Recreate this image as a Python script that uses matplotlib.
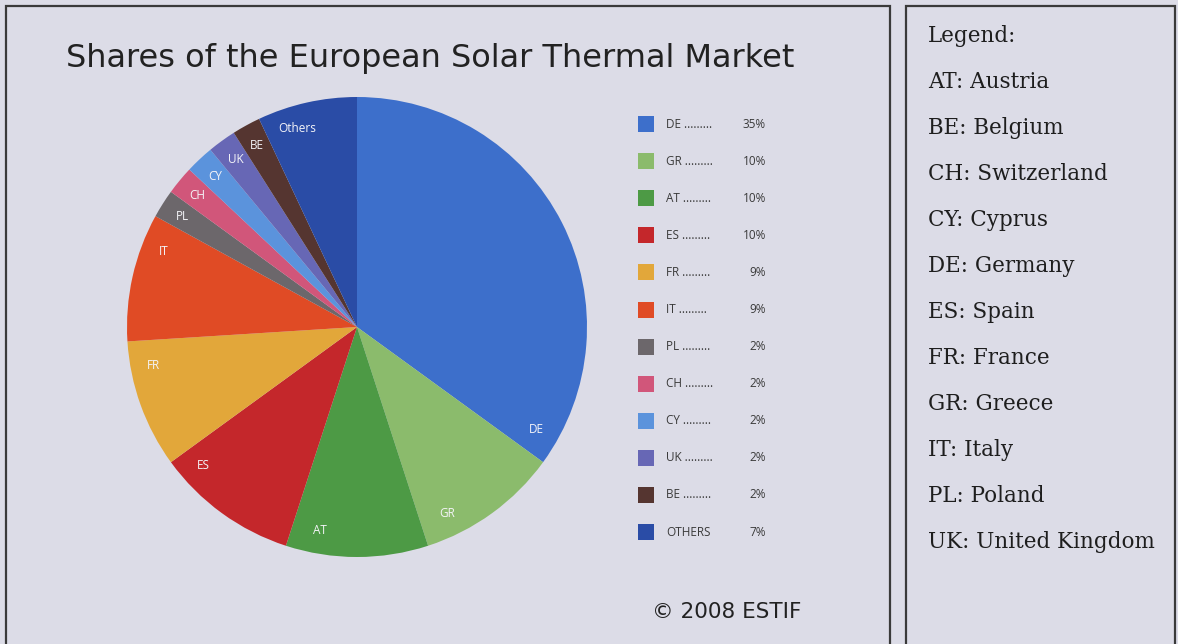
import numpy as np
import matplotlib
matplotlib.use('Agg')
import matplotlib.pyplot as plt
from matplotlib.patches import Rectangle

# market shares, clockwise from 12 o'clock
codes = ['DE', 'GR', 'AT', 'ES', 'FR', 'IT', 'PL', 'CH', 'CY', 'UK', 'BE', 'Others']
legend_codes = ['DE', 'GR', 'AT', 'ES', 'FR', 'IT', 'PL', 'CH', 'CY', 'UK', 'BE', 'OTHERS']
shares = [35, 10, 10, 10, 9, 9, 2, 2, 2, 2, 2, 7]
colors = ['#3d6fcb', '#8bbb6c', '#4d9a45', '#c4272b', '#e2a73a', '#e04b25',
          '#6c676b', '#d1567a', '#5b93dc', '#6767b5', '#553530', '#2a4ca6']
# where each label sits along its wedge (0 = start, 1 = end)
label_frac = [0.95, 0.78, 0.79, 0.83, 0.78, 0.77, 0.5, 0.5, 0.5, 0.5, 0.5, 0.33]

country_names = ['AT: Austria', 'BE: Belgium', 'CH: Switzerland', 'CY: Cyprus',
                 'DE: Germany', 'ES: Spain', 'FR: France', 'GR: Greece',
                 'IT: Italy', 'PL: Poland', 'UK: United Kingdom']

W, H = 1178, 644
BG = '#dcdce7'


def px(x, y):
    # pixel position (from top-left) to figure fraction
    return x / W, 1 - y / H


fig = plt.figure(figsize=(W / 100, H / 100), dpi=100, facecolor=BG)

# frames
for x0, x1 in [(6, 890), (906, 1175)]:
    fig.patches.append(Rectangle(px(x0, 660), (x1 - x0) / W, 654 / H,
                                 transform=fig.transFigure, fill=False,
                                 edgecolor='#3a3a3a', linewidth=1.6))

# pie
ax = fig.add_axes([127 / W, 1 - 557 / H, 460 / W, 460 / H])
ax.set_facecolor(BG)
wedges, _ = ax.pie(shares, colors=colors, startangle=90, counterclock=False,
                   radius=1.0, wedgeprops=dict(linewidth=0))
ax.set_xlim(-1, 1)
ax.set_ylim(-1, 1)
ax.set_aspect('equal')
ax.axis('off')

for w, code, f in zip(wedges, codes, label_frac):
    # wedges run theta1 -> theta2 anticlockwise; clockwise start is theta2
    ang = np.deg2rad(w.theta2 - f * (w.theta2 - w.theta1))
    ax.text(0.9 * np.cos(ang), 0.9 * np.sin(ang), code, color='#f4f4f8',
            fontsize=8.5, ha='center', va='center', family='Open Sans')

fig.text(*px(66, 58), 'Shares of the European Solar Thermal Market',
         fontsize=23, color='#222222', ha='left', va='center',
         family='DejaVu Sans')

# colour key
for i, (code, val, c) in enumerate(zip(legend_codes, shares, colors)):
    y = 124 + i * 37.1
    fig.patches.append(Rectangle(px(638, y + 8), 16 / W, 16 / H,
                                 transform=fig.transFigure, facecolor=c,
                                 edgecolor='none'))
    label = code if code == 'OTHERS' else code + ' .........'
    fig.text(*px(666, y), label, fontsize=8.5, color='#3a3a3a',
             ha='left', va='center', family='Open Sans')
    fig.text(*px(766, y), f'{val}%', fontsize=8.5, color='#3a3a3a',
             ha='right', va='center', family='Open Sans')

fig.text(*px(652, 612), '\u00a9 2008 ESTIF', fontsize=15.5, color='#222222',
         ha='left', va='center', family='DejaVu Sans')

# country abbreviations
fig.text(*px(928, 36), 'Legend:', fontsize=15.5, color='#1e1e1e',
         ha='left', va='center', family='DejaVu Serif')
for i, name in enumerate(country_names):
    fig.text(*px(928, 82 + i * 46), name, fontsize=15.5, color='#1e1e1e',
             ha='left', va='center', family='DejaVu Serif')

fig.savefig('out.png', dpi=100, facecolor=BG)
